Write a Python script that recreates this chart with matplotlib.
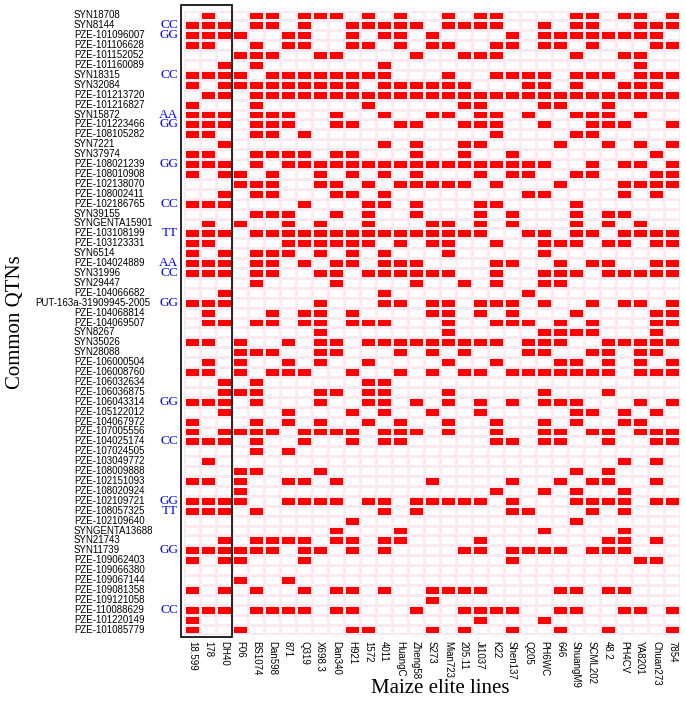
import numpy as np
import matplotlib
matplotlib.use('Agg')
import matplotlib.pyplot as plt
from matplotlib.colors import ListedColormap
from matplotlib.patches import Rectangle
from matplotlib.transforms import blended_transform_factory

lines = ['18.599', '178', 'DH40', 'F06', 'BS1074', 'Dan598', '871', 'Q319', 'X698.3', 'Dan340',
         'H921', '1572', '4011', 'HuangC', 'Zheng58', 'S273', 'Mian723', '205.11', 'Ji1037', 'K22',
         'Shen137', 'Q205', 'PH6WC', '646', 'ShuangM9', 'SCML202', '48.2', 'PH4CV', 'YA8201',
         'Chuan273', '7854']

qtns = ['SYN18708', 'SYN8144', 'PZE-101096007', 'PZE-101106628', 'PZE-101152052', 'PZE-101160089',
        'SYN18315', 'SYN32084', 'PZE-101213720', 'PZE-101216827', 'SYN15872', 'PZE-101223466',
        'PZE-108105282', 'SYN7221', 'SYN37974', 'PZE-108021239', 'PZE-108010908', 'PZE-102138070',
        'PZE-108002411', 'PZE-102186765', 'SYN39155', 'SYNGENTA15901', 'PZE-103108199',
        'PZE-103123331', 'SYN6514', 'PZE-104024889', 'SYN31996', 'SYN29447', 'PZE-104066682',
        'PUT-163a-31909945-2005', 'PZE-104068814', 'PZE-104069507', 'SYN8267', 'SYN35026',
        'SYN28088', 'PZE-106000504', 'PZE-106008760', 'PZE-106032634', 'PZE-106036875',
        'PZE-106043314', 'PZE-105122012', 'PZE-104067972', 'PZE-107005556', 'PZE-104025174',
        'PZE-107024505', 'PZE-103049772', 'PZE-108009888', 'PZE-102151093', 'PZE-108020924',
        'PZE-102109721', 'PZE-108057325', 'PZE-102109640', 'SYNGENTA13688', 'SYN21743',
        'SYN11739', 'PZE-109062403', 'PZE-109066380', 'PZE-109067144', 'PZE-109081358',
        'PZE-109121058', 'PZE-110088629', 'PZE-101220149', 'PZE-101085779']

# genotype tags shown next to some QTNs (row index -> text)
tag_rows = [1, 2, 6, 10, 11, 15, 19, 22, 25, 26, 29, 39, 43, 49, 50, 54, 60]
tag_text = ['CC', 'GG', 'CC', 'AA', 'GG', 'GG', 'CC', 'TT', 'AA', 'CC', 'GG', 'GG', 'CC', 'GG', 'TT', 'GG', 'CC']

# presence (1) / absence (0) of each QTN (rows) in each line (columns)
presence = [
    '010011011101010' + '0101100001101101',
    '111011010011111' + '0111100101100111',
    '111100110010110' + '1000010111111110',
    '110010110011010' + '1100110110100011',
    '000111001100001' + '0011100001001100',
    '001010000000100' + '0000000000000100',
    '111101111111100' + '0100111101110111',
    '101111111110111' + '1110001101001110',
    '011011111111111' + '1111111111111111',
    '100010000001000' + '0011000110010000',
    '111011100100100' + '1101101001110100',
    '111011100110011' + '0011100100111001',
    '110011010000000' + '0000100001100000',
    '001000000000101' + '0011000010010101',
    '110011110110001' + '0010010000000010',
    '111010111111111' + '1111111100101101',
    '101101001010101' + '0001011001100011',
    '000111001101011' + '1110100010001111',
    '001011000110100' + '0000001100001010',
    '111000010001101' + '0001100001000000',
    '000011100101001' + '0001010001011000',
    '010100101001000' + '1101010001010100',
    '111011111111111' + '1111001101101111',
    '110000111111010' + '1100100111011011',
    '101011101010100' + '0100000100000000',
    '111011010110111' + '0000110010110011',
    '111011001101111' + '1100100111011111',
    '000010000100001' + '0010100110000000',
    '001000000000100' + '0000001000000000',
    '111000001000110' + '1101110100101101',
    '010001011010000' + '1101010001000011',
    '011011011011100' + '0100111010100011',
    '000000001000000' + '0100000111100010',
    '110100101101111' + '1111101110011111',
    '000111001100010' + '1010001100110110',
    '010100101001000' + '0100100011010101',
    '110101110010010' + '1011011111110111',
    '001010000001100' + '0000000000000000',
    '001110001101100' + '0100000100010000',
    '111010001001101' + '0101010111000101',
    '001000100010100' + '1001000001101010',
    '100010101001010' + '0100100101001100',
    '101111011110111' + '0100100110110111',
    '111010010010110' + '0000110110010011',
    '000010100000000' + '0000000000000000',
    '010000000000000' + '0000000000001010',
    '000110001000000' + '0000000001010000',
    '110100110100000' + '1000010010110010',
    '000100000000000' + '0000100101001000',
    '111100111101101' + '1111010001111011',
    '111010000000101' + '0000011000101000',
    '000000000010000' + '0000000001000000',
    '000000000100010' + '0000000100001000',
    '001011110110110' + '0001000000011010',
    '111111011010100' + '0011011110111000',
    '101100010000000' + '0000010000000110',
    '000000000000000' + '0000000000000000',
    '000100100000000' + '0000000000000000',
    '101010010110100' + '1111000011011000',
    '000000000000000' + '1000000000000000',
    '111011110110001' + '0011110011001101',
    '100000000000000' + '0001000100000000',
    '100100000011000' + '1010010010010001',
]

mat = np.array([[int(ch) for ch in row] for row in presence])
nrow, ncol = mat.shape

W, H = 686, 709
fig = plt.figure(figsize=(W / 100, H / 100), dpi=100)
x0, x1, y0, y1 = 184, 680, 10.5, 634.5
ax = fig.add_axes([x0 / W, 1 - y1 / H, (x1 - x0) / W, (y1 - y0) / H])

ax.pcolormesh(np.arange(ncol + 1), np.arange(nrow + 1), mat,
              cmap=ListedColormap(['white', '#ff0000']), vmin=0, vmax=1,
              edgecolors='#fdeaf0', linewidth=0.8)
ax.set_xlim(0, ncol)
ax.set_ylim(nrow, 0)
for s in ax.spines.values():
    s.set_visible(False)

ax.set_xticks(np.arange(ncol) + 0.5)
ax.set_xticklabels(lines, rotation=270, fontsize=7, family=['Liberation Sans', 'DejaVu Sans'],
                   va='top', ha='center')
ax.tick_params(axis='x', length=0, pad=4.7)
ax.set_yticks([])

tr = blended_transform_factory(ax.transAxes, ax.transData)
for i, name in enumerate(qtns):
    if len(name) > 16:
        ax.text((150 - x0) / (x1 - x0), i + 0.5, name, transform=tr, ha='right', va='center',
                fontsize=7, family=['Liberation Sans', 'DejaVu Sans'])
    else:
        ax.text((74 - x0) / (x1 - x0), i + 0.5, name, transform=tr, ha='left', va='center',
                fontsize=7, family=['Liberation Sans', 'DejaVu Sans'])

for r, t in zip(tag_rows, tag_text):
    ax.text((178 - x0) / (x1 - x0), r + 0.5, t, transform=tr, ha='right', va='center',
            fontsize=9.5, color='#0000ff', family=['Liberation Serif', 'DejaVu Serif'])

# box around the first three lines
ax.add_patch(Rectangle((-0.19, -0.55), 3.19, nrow + 0.8, fill=False, ec='black', lw=1.2,
                       clip_on=False))

fig.text(16 / W, 1 - 322 / H, 'Common QTNs', rotation=90, ha='center', va='center',
         fontsize=15, family=['Liberation Serif', 'DejaVu Serif'])
fig.text(440 / W, 1 - 693 / H, 'Maize elite lines', ha='center', va='baseline',
         fontsize=15, family=['Liberation Serif', 'DejaVu Serif'])

fig.savefig('out.png', dpi=100)
